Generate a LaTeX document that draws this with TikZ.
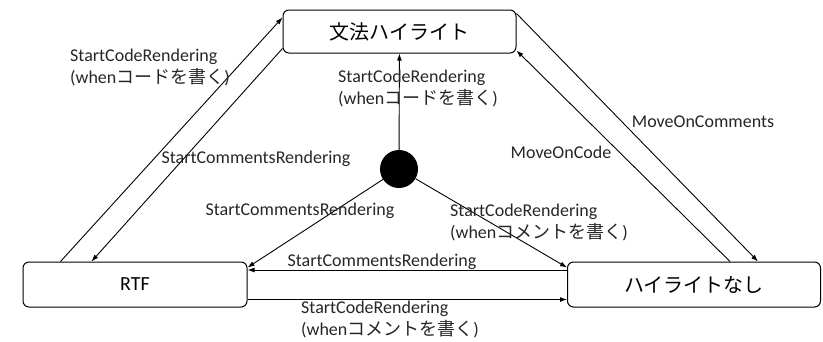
\documentclass[tikz,border=0pt]{standalone}
\usepackage{fontspec}
\setmainfont{Carlito}
\newfontfamily\jp{Noto Sans CJK JP}
\usetikzlibrary{arrows.meta,calc}
\tikzset{
  state/.style={draw, rounded corners=6pt, line width=1pt, inner sep=0pt},
  lbl/.style={font=\fontsize{18}{22}\selectfont, align=left, inner sep=0pt, text=black!85},
  tr/.style={-{Latex[length=7pt,width=5pt]}, line width=0.9pt},
  big/.style={font=\fontsize{20}{24}\selectfont}
}
\begin{document}
\begin{tikzpicture}[x=1pt,y=-1pt]
\useasboundingbox (0,0) rectangle (823,341);
% states
\node[state, big, minimum width=233pt, minimum height=43pt] (top) at (399.5,31.5) {\jp 文法ハイライト};
\node[state, big, minimum width=224pt, minimum height=45pt] (rtf) at (135,284.5) {RTF};
\node[state, big, minimum width=253pt, minimum height=45pt] (none) at (694,284.5) {\jp ハイライトなし};
\node[circle, fill=black, minimum size=38pt, inner sep=0pt] (init) at (399,169) {};
% coordinates on borders
\coordinate (r1) at ($(rtf.north west)+(38,0)$);
\coordinate (t1) at ($(top.north west)+(0,8)$);
\coordinate (t2) at ($(top.south west)+(0,-5)$);
\coordinate (r2) at ($(rtf.north west)+(69,0)$);
\coordinate (r3) at ($(rtf.north east)+(0,6)$);
\coordinate (n3) at ($(none.north west)+(0,6)$);
\coordinate (r4) at ($(rtf.north east)+(0,8.5)$);
\coordinate (n4) at ($(none.north west)+(0,8.5)$);
\coordinate (r5) at ($(rtf.south east)+(0,-8)$);
\coordinate (n5) at ($(none.south west)+(0,-8)$);
\coordinate (n6) at ($(none.north west)+(163,0)$);
\coordinate (t6) at ($(top.south east)+(0,-3)$);
\coordinate (t7) at ($(top.north east)+(0,4)$);
\coordinate (n7) at ($(none.north west)+(191,0)$);
% transitions
\draw[tr] (r1) -- (t1);
\draw[tr] (t2) -- (r2);
\draw[tr] (init) -- (top);
\draw[tr] (init) -- (r3);
\draw[tr] (init) -- (n3);
\draw[tr] (n4) -- (r4);
\draw[tr] (r5) -- (n5);
\draw[tr] (n6) -- (t6);
\draw[tr] (t7) -- (n7);
% labels
\node[lbl, anchor=west] (l1) at (70,67) {StartCodeRendering\\(when{\jp コードを書く})};
\node[lbl, anchor=west] (l2) at (338,88) {StartCodeRendering\\(when{\jp コードを書く})};
\node[lbl] (l3) at (256,159) {StartCommentsRendering};
\node[lbl] (l4) at (300,211) {StartCommentsRendering};
\node[lbl, anchor=west] (l5) at (450,222) {StartCodeRendering\\(when{\jp コメントを書く})};
\node[lbl] (l6) at (382,262) {StartCommentsRendering};
\node[lbl, anchor=west] (l7) at (301,319) {StartCodeRendering\\(when{\jp コメントを書く})};
\node[lbl] (l8) at (703,122) {MoveOnComments};
\node[lbl] (l9) at (561,152) {MoveOnCode};
\end{tikzpicture}
\end{document}
